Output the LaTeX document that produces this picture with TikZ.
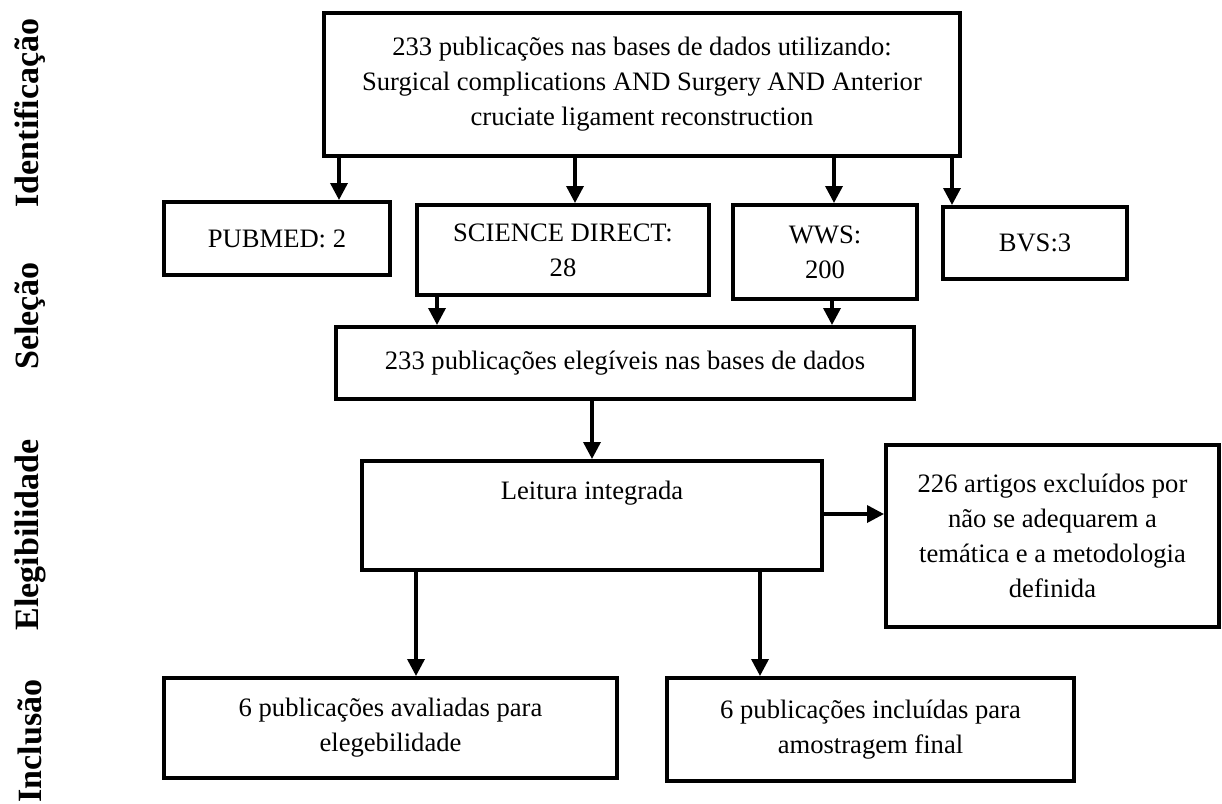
\documentclass[tikz,border=0pt]{standalone}
\usepackage{fontspec}
\setmainfont{Liberation Serif}
\usetikzlibrary{arrows.meta}

\begin{document}
\begin{tikzpicture}[x=1pt, y=-1pt,
  caixa/.style={draw=black, line width=4pt, align=center, inner sep=0pt, font=\fontsize{26.6}{35}\selectfont},
  seta/.style={line width=3.5pt, -{Triangle[length=17pt,width=17pt]}},
  fase/.style={rotate=90, font=\fontsize{34}{40}\selectfont\bfseries}]
\useasboundingbox (0,0) rectangle (1222,803);
\node[fase] (fident) at (30,113) {Identificação};
\node[fase] (fsel) at (30,316) {Seleção};
\node[fase] (feleg) at (30,535) {Elegibilidade};
\node[fase] (fincl) at (30,741) {Inclusão};
\node[caixa, minimum width=636pt, minimum height=143pt] (busca) at (642,84.5) {233 publicações nas bases de dados utilizando:\\Surgical complications AND Surgery AND Anterior\\cruciate ligament reconstruction};
\node[caixa, minimum width=226pt, minimum height=73pt] (pubmed) at (277,238.5) {PUBMED: 2};
\node[caixa, minimum width=292pt, minimum height=90pt] (science) at (563,250) {SCIENCE DIRECT:\\28};
\node[caixa, minimum width=184pt, minimum height=94pt] (wws) at (825,252) {WWS:\\200};
\node[caixa, minimum width=184pt, minimum height=72pt] (bvs) at (1035,243) {BVS:3};
\node[caixa, minimum width=578pt, minimum height=72pt] (elegiveis) at (625,363) {233 publicações elegíveis nas bases de dados};
\node[caixa, minimum width=460pt, inner ysep=20pt, text height=18pt, text depth=51pt, anchor=north] (leitura) at (592,459) {Leitura integrada};
\node[caixa, minimum width=333pt, minimum height=182pt] (excluidos) at (1052.5,536) {226 artigos excluídos por\\não se adequarem a\\temática e a metodologia\\definida};
\node[caixa, minimum width=453pt, minimum height=100pt] (avaliadas) at (390.5,728) {6 publicações avaliadas para\\elegebilidade};
\node[caixa, minimum width=407pt, minimum height=103pt] (incluidas) at (870.5,729.5) {6 publicações incluídas para\\amostragem final};
\draw[seta] (busca.south -| 339,0) -- (pubmed.north -| 339,0);
\draw[seta] (busca.south -| 575,0) -- (science.north -| 575,0);
\draw[seta] (busca.south -| 834,0) -- (wws.north -| 834,0);
\draw[seta] (busca.south -| 952,0) -- (bvs.north -| 952,0);
\draw[seta] (science.south -| 437,0) -- (elegiveis.north -| 437,0);
\draw[seta] (wws.south -| 832,0) -- (elegiveis.north -| 832,0);
\draw[seta] (elegiveis.south -| 592,0) -- (leitura.north -| 592,0);
\draw[seta] (leitura.east |- 0,514) -- (excluidos.west |- 0,514);
\draw[seta] (leitura.south -| 416,0) -- (avaliadas.north -| 416,0);
\draw[seta] (leitura.south -| 760,0) -- (incluidas.north -| 760,0);
\end{tikzpicture}
\end{document}
